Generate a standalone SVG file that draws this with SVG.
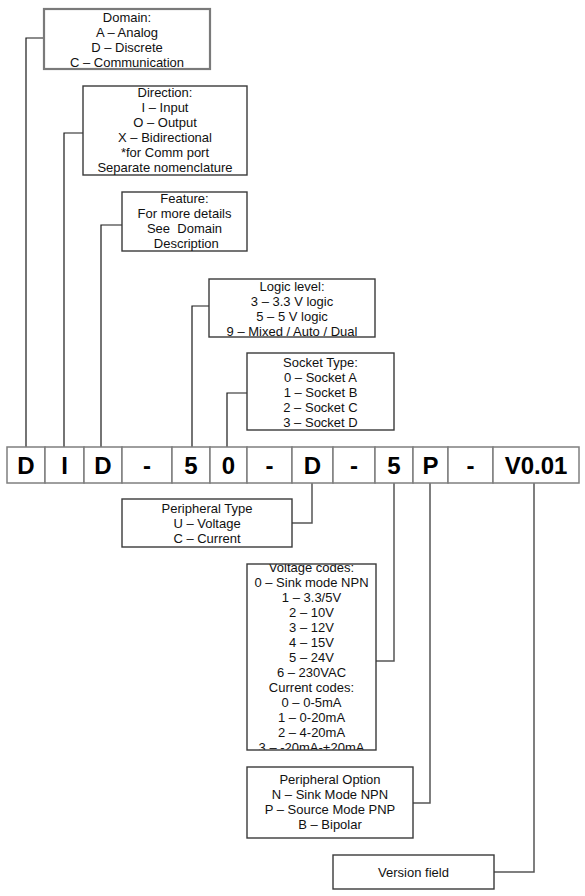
<svg xmlns="http://www.w3.org/2000/svg" width="585" height="896" viewBox="0 0 585 896">
<style>
.bg{fill:#ffffff}
.box{fill:#ffffff;stroke:#3a3a3a;stroke-width:1.4}
.box2{fill:#ffffff;stroke:#7a7a7a;stroke-width:2.2}
.cell{fill:#ffffff;stroke:#7f7f7f;stroke-width:1.5}
.t{font-family:"Liberation Sans",Arial,sans-serif;font-size:13px;fill:#111111;text-anchor:middle;white-space:pre}
.c{font-family:"Liberation Sans",Arial,sans-serif;font-size:24px;font-weight:bold;fill:#000000;text-anchor:middle}
.ln{fill:none;stroke:#1a1a1a;stroke-width:1.2}
.ln2{fill:none;stroke:#555555;stroke-width:1.5}
</style>
<defs>
<clipPath id="vclip"><rect x="247" y="564" width="129" height="186"/></clipPath>
</defs>
<rect class="bg" x="0" y="0" width="585" height="896"/>
<g id="connectors">
<polyline class="ln" points="44,38 26,38 26,447"/>
<polyline class="ln" points="83,133 64,133 64,447"/>
<polyline class="ln" points="122,225 101,225 101,447"/>
<polyline class="ln" points="209,306 192,306 192,447"/>
<polyline class="ln" points="247,393 227,393 227,447"/>
<polyline class="ln2" points="312,483 312,523 292,523"/>
<polyline class="ln2" points="394,483 394,661 376,661"/>
<polyline class="ln2" points="430,483 430,803 413,803"/>
<polyline class="ln2" points="534,483 534,872 494,872"/>
</g>
<g id="code">
<rect class="cell" x="7" y="447" width="38" height="36"/>
<rect class="cell" x="45" y="447" width="39" height="36"/>
<rect class="cell" x="84" y="447" width="38" height="36"/>
<rect class="cell" x="122" y="447" width="50" height="36"/>
<rect class="cell" x="172" y="447" width="38" height="36"/>
<rect class="cell" x="210" y="447" width="37" height="36"/>
<rect class="cell" x="247" y="447" width="45" height="36"/>
<rect class="cell" x="292" y="447" width="41" height="36"/>
<rect class="cell" x="333" y="447" width="42" height="36"/>
<rect class="cell" x="375" y="447" width="38" height="36"/>
<rect class="cell" x="413" y="447" width="35" height="36"/>
<rect class="cell" x="448" y="447" width="45" height="36"/>
<rect class="cell" x="493" y="447" width="86" height="36"/>
<text class="c" x="26" y="474">D</text>
<text class="c" x="64.5" y="474">I</text>
<text class="c" x="103" y="474">D</text>
<text class="c" x="147" y="474">-</text>
<text class="c" x="191" y="474">5</text>
<text class="c" x="228.5" y="474">0</text>
<text class="c" x="269.5" y="474">-</text>
<text class="c" x="312.5" y="474">D</text>
<text class="c" x="354" y="474">-</text>
<text class="c" x="394" y="474">5</text>
<text class="c" x="430.5" y="474">P</text>
<text class="c" x="470.5" y="474">-</text>
<text class="c" x="536" y="474">V0.01</text>
</g>
<g id="domain">
<rect class="box2" x="44" y="9" width="166" height="60"/>
<text class="t" x="127" y="21.5">Domain:</text>
<text class="t" x="127" y="36.5">A – Analog</text>
<text class="t" x="127" y="51.5">D – Discrete</text>
<text class="t" x="127" y="66.5">C – Communication</text>
</g>
<g id="direction">
<rect class="box" x="83" y="86" width="164" height="89"/>
<text class="t" x="165" y="96.5">Direction:</text>
<text class="t" x="165" y="111.5">I – Input</text>
<text class="t" x="165" y="126.5">O – Output</text>
<text class="t" x="165" y="141.5">X – Bidirectional</text>
<text class="t" x="165" y="156.5">*for Comm port</text>
<text class="t" x="165" y="171.5">Separate nomenclature</text>
</g>
<g id="feature">
<rect class="box" x="122" y="192" width="125" height="59"/>
<text class="t" x="184.5" y="202.5">Feature:</text>
<text class="t" x="184.5" y="217.5">For more details</text>
<text class="t" x="184.5" y="232.5">See  Domain</text>
<text class="t" x="184.5" y="247.5"> Description</text>
</g>
<g id="logic">
<rect class="box" x="209" y="279" width="166" height="58"/>
<text class="t" x="292" y="290.5">Logic level:</text>
<text class="t" x="292" y="305.5">3 – 3.3 V logic</text>
<text class="t" x="292" y="320.5">5 – 5 V logic</text>
<text class="t" x="292" y="335.5">9 – Mixed / Auto / Dual</text>
</g>
<g id="socket">
<rect class="box" x="247" y="353" width="147" height="77"/>
<text class="t" x="320.5" y="366.5">Socket Type:</text>
<text class="t" x="320.5" y="381.5">0 – Socket A</text>
<text class="t" x="320.5" y="396.5">1 – Socket B</text>
<text class="t" x="320.5" y="411.5">2 – Socket C</text>
<text class="t" x="320.5" y="426.5">3 – Socket D</text>
</g>
<g id="ptype">
<rect class="box" x="122" y="499" width="170" height="48"/>
<text class="t" x="207" y="512.5">Peripheral Type</text>
<text class="t" x="207" y="527.5">U – Voltage</text>
<text class="t" x="207" y="542.5">C – Current</text>
</g>
<g id="codes">
<rect x="247" y="564" width="129" height="186" fill="#ffffff"/>
<g clip-path="url(#vclip)">
<text class="t" x="311.5" y="571.5">Voltage codes:</text>
<text class="t" x="311.5" y="586.5">0 – Sink mode NPN</text>
<text class="t" x="311.5" y="601.5">1 – 3.3/5V</text>
<text class="t" x="311.5" y="616.5">2 – 10V</text>
<text class="t" x="311.5" y="631.5">3 – 12V</text>
<text class="t" x="311.5" y="646.5">4 – 15V</text>
<text class="t" x="311.5" y="661.5">5 – 24V</text>
<text class="t" x="311.5" y="676.5">6 – 230VAC</text>
<text class="t" x="311.5" y="691.5">Current codes:</text>
<text class="t" x="311.5" y="706.5">0 – 0-5mA</text>
<text class="t" x="311.5" y="721.5">1 – 0-20mA</text>
<text class="t" x="311.5" y="736.5">2 – 4-20mA</text>
<text class="t" x="311.5" y="751.5">3 – -20mA-+20mA</text>
</g>
<rect x="247" y="564" width="129" height="186" fill="none" stroke="#3a3a3a" stroke-width="1.4"/>
</g>
<g id="poption">
<rect class="box" x="247" y="767" width="166" height="71"/>
<text class="t" x="330" y="783.5">Peripheral Option</text>
<text class="t" x="330" y="798.5">N – Sink Mode NPN</text>
<text class="t" x="330" y="813.5">P – Source Mode PNP</text>
<text class="t" x="330" y="828.5">B – Bipolar</text>
</g>
<g id="version">
<rect class="box" x="333" y="855" width="161" height="34"/>
<text class="t" x="413.5" y="876.5">Version field</text>
</g>
</svg>
